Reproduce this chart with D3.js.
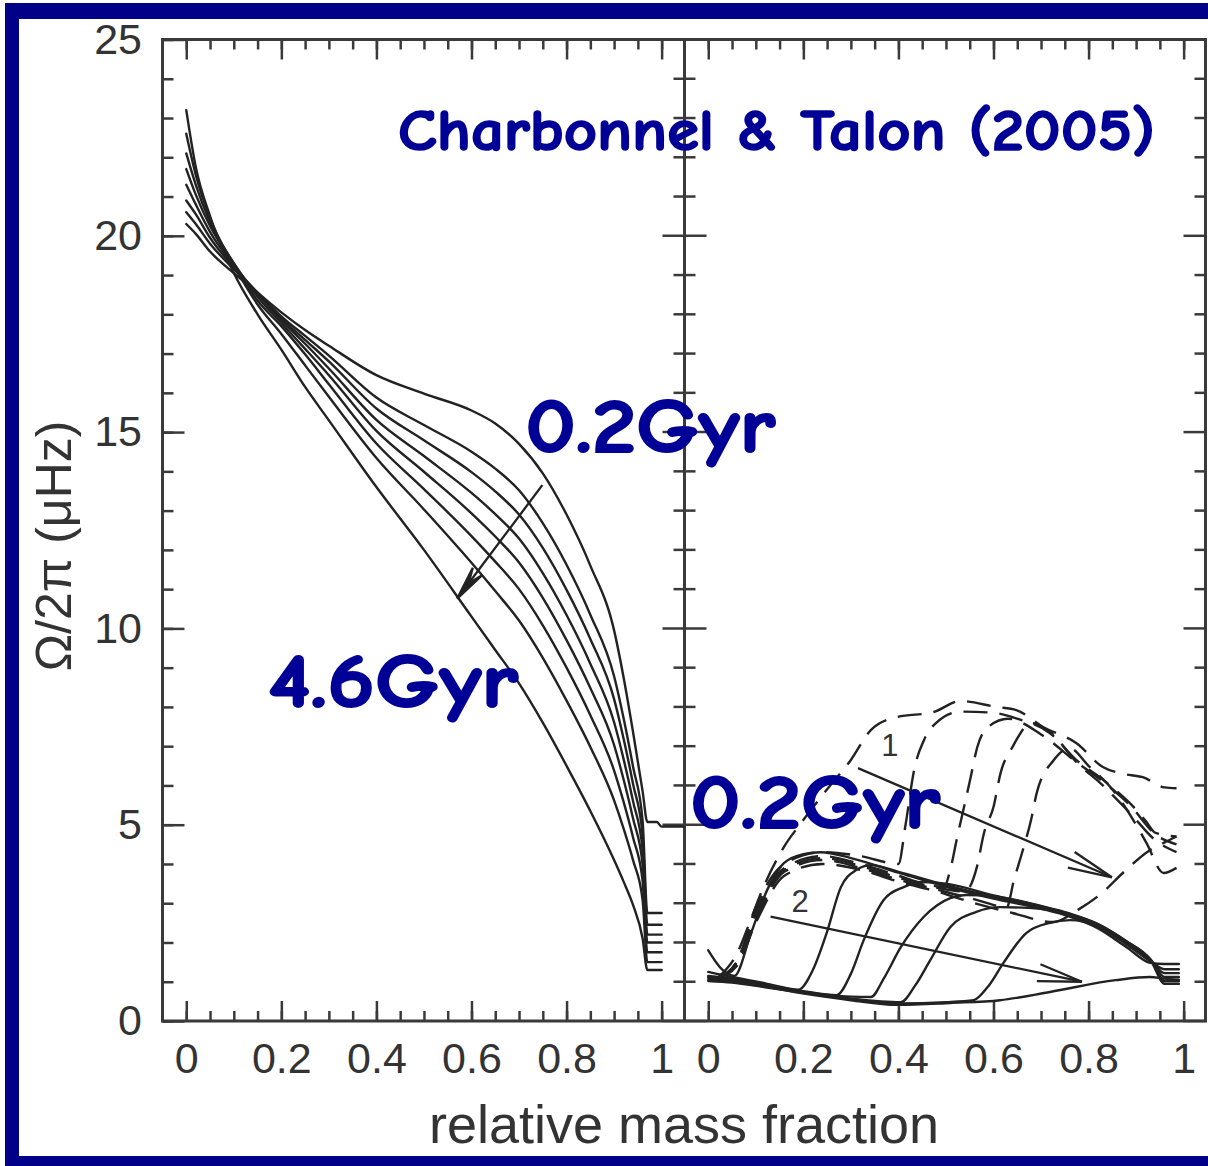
<!DOCTYPE html>
<html>
<head>
<meta charset="utf-8">
<script src="https://cdn.jsdelivr.net/npm/d3@7"></script>
<style>
  html, body { margin: 0; padding: 0; background: #ffffff; }
  svg { display: block; }
</style>
</head>
<body>
<svg id="chart" width="1208" height="1166"></svg>
<script>
// ---------------- data ----------------
const omegaMajorTicks = [0, 5, 10, 15, 20, 25];
const massMajorTicks = [0, 0.2, 0.4, 0.6, 0.8, 1];
const massTickLabels = ["0", "0.2", "0.4", "0.6", "0.8", "1"];

// Left panel: angular velocity profiles on a common mass grid (0.2 Gyr -> 4.6 Gyr)
const massLeft = [0, 0.02, 0.05, 0.1, 0.15, 0.2, 0.25, 0.3, 0.4, 0.5, 0.6, 0.65, 0.7, 0.75, 0.8, 0.85, 0.9, 0.92, 0.94, 0.96, 0.97, 0.99, 1.0, 1.046];
const omegaLeft1 = [20.3, 20.05, 19.6, 19.05, 18.55, 18.05, 17.6, 17.2, 16.45, 15.98, 15.55, 15.22, 14.7, 13.95, 12.9, 11.6, 9.95, 8.75, 7.35, 5.85, 5.07, 5.07, 4.95, 4.95];
const omegaLeft2 = [20.6, 20.3, 19.8, 19.15, 18.55, 17.95, 17.45, 16.95, 15.88, 15.18, 14.5, 14.07, 13.52, 12.68, 11.62, 10.35, 8.78, 7.71, 6.47, 5.1, 2.75, 2.75, 2.75, null];
const omegaLeft3 = [20.9, 20.55, 19.95, 19.2, 18.55, 17.9, 17.35, 16.8, 15.6, 14.79, 13.98, 13.49, 12.9, 12.05, 10.98, 9.73, 8.2, 7.19, 6.03, 4.73, 2.45, 2.45, 2.45, null];
const omegaLeft4 = [21.3, 20.8, 20.1, 19.25, 18.52, 17.85, 17.25, 16.62, 15.31, 14.39, 13.45, 12.91, 12.29, 11.41, 10.34, 9.1, 7.61, 6.67, 5.59, 4.35, 2.2, 2.2, 2.2, null];
const omegaLeft5 = [21.7, 21.05, 20.25, 19.3, 18.45, 17.78, 17.12, 16.45, 15.03, 13.99, 12.93, 12.34, 11.68, 10.78, 9.7, 8.48, 7.03, 6.15, 5.15, 3.98, 2.0, 2.0, 2.0, null];
const omegaLeft6 = [22.1, 21.3, 20.35, 19.3, 18.35, 17.7, 16.98, 16.22, 14.71, 13.55, 12.35, 11.7, 11.0, 10.08, 9.0, 7.79, 6.38, 5.58, 4.67, 3.56, 1.75, 1.75, 1.75, null];
const omegaLeft7 = [22.6, 21.55, 20.45, 19.25, 18.25, 17.5, 16.7, 15.9, 14.34, 13.03, 11.67, 10.95, 10.2, 9.25, 8.16, 6.98, 5.62, 4.9, 4.09, 3.08, 1.5, 1.5, 1.5, null];
const omegaLeft8 = [23.2, 21.75, 20.5, 19.05, 18.0, 17.1, 16.15, 15.3, 13.6, 12.0, 10.3, 9.45, 8.6, 7.6, 6.5, 5.35, 4.1, 3.55, 2.95, 2.1, 1.3, 1.3, 1.3, null];

// Right panel, case 2 (solid profiles): [mass fraction, Omega/2pi]
const solid2a = [[0,1.8],[0.03,1.3],[0.055,1.15],[0.09,2.24],[0.124,3.34],[0.159,4.02],[0.2,4.25],[0.237,4.3],[0.3,4.15],[0.4,3.78],[0.5,3.42],[0.6,3.12],[0.7,2.86],[0.76,2.66],[0.82,2.36],[0.88,1.88],[0.93,1.48],[0.96,1.45],[0.99,1.45]];
const solid2b = [[0,1.25],[0.05,1.12],[0.12,0.96],[0.19,0.8],[0.22,1.3],[0.249,2.24],[0.279,3.41],[0.312,3.85],[0.342,3.97],[0.4,3.8],[0.5,3.46],[0.6,3.16],[0.7,2.9],[0.76,2.7],[0.82,2.41],[0.88,1.95],[0.93,1.52],[0.96,1.32],[0.99,1.32]];
const solid2c = [[0,1.15],[0.05,1.08],[0.12,0.92],[0.2,0.76],[0.27,0.66],[0.3,1.2],[0.327,2.06],[0.369,3.08],[0.411,3.41],[0.453,3.54],[0.5,3.5],[0.6,3.2],[0.7,2.92],[0.76,2.72],[0.82,2.44],[0.88,1.99],[0.93,1.55],[0.96,1.22],[0.99,1.22]];
const solid2d = [[0,1.1],[0.05,1.04],[0.12,0.9],[0.2,0.74],[0.3,0.62],[0.342,0.61],[0.37,1.1],[0.405,1.88],[0.453,2.65],[0.509,3.13],[0.543,3.21],[0.6,3.18],[0.7,2.93],[0.76,2.74],[0.82,2.47],[0.88,2.02],[0.93,1.57],[0.96,1.12],[0.99,1.12]];
const solid2e = [[0,1.05],[0.05,1.0],[0.12,0.87],[0.2,0.73],[0.3,0.57],[0.405,0.48],[0.435,0.9],[0.467,1.55],[0.509,2.39],[0.564,2.78],[0.614,2.9],[0.7,2.86],[0.76,2.72],[0.82,2.46],[0.88,2.03],[0.93,1.57],[0.96,1.02],[0.99,1.02]];
const solid2f = [[0,1.02],[0.05,0.98],[0.12,0.86],[0.2,0.72],[0.3,0.56],[0.4,0.45],[0.5,0.48],[0.558,0.53],[0.59,0.9],[0.621,1.48],[0.669,2.24],[0.719,2.5],[0.761,2.57],[0.82,2.42],[0.88,2.02],[0.93,1.56],[0.96,0.95],[0.99,0.95]];
const solid2g = [[0,1.12],[0.055,1.04],[0.12,0.88],[0.195,0.71],[0.3,0.53],[0.396,0.41],[0.509,0.46],[0.614,0.53],[0.719,0.74],[0.857,1.04],[0.929,1.12],[0.96,1.08],[0.99,1.05]];

// Right panel, case 1 (dashed profiles)
const dashed1a = [[0.02,1.1],[0.061,1.73],[0.09,2.6],[0.111,3.26],[0.159,4.43],[0.195,5.04],[0.25,5.9],[0.3,6.65],[0.342,7.41],[0.396,7.74],[0.474,7.87],[0.53,8.15],[0.606,8.0],[0.648,7.92],[0.704,7.49],[0.774,7.08],[0.83,6.47],[0.87,6.3],[0.914,6.21],[0.96,5.95],[0.985,5.93]];
const dashed1b = [[0.02,1.1],[0.06,1.5],[0.1,2.9],[0.16,4.0],[0.24,4.3],[0.32,4.2],[0.4,4.0],[0.415,5.0],[0.433,6.39],[0.454,7.16],[0.48,7.6],[0.53,7.88],[0.6,7.85],[0.65,7.7],[0.719,7.33],[0.774,6.65],[0.83,6.15],[0.857,5.88],[0.887,5.55],[0.92,5.1],[0.941,4.79],[0.985,4.7]];
const dashed1c = [[0.02,1.1],[0.06,1.5],[0.1,2.8],[0.16,3.9],[0.24,4.2],[0.32,4.0],[0.4,3.7],[0.47,3.45],[0.496,3.41],[0.51,3.9],[0.524,4.7],[0.538,5.45],[0.552,6.21],[0.566,6.98],[0.59,7.5],[0.63,7.7],[0.7,7.3],[0.774,6.6],[0.83,6.1],[0.887,5.5],[0.941,4.75],[0.985,4.5]];
const dashed1d = [[0.02,1.1],[0.06,1.5],[0.1,2.7],[0.16,3.85],[0.24,4.15],[0.32,3.95],[0.4,3.65],[0.48,3.4],[0.54,3.3],[0.565,3.92],[0.58,4.79],[0.6,5.45],[0.615,6.32],[0.64,6.98],[0.68,7.59],[0.72,7.35],[0.774,6.6],[0.83,6.0],[0.887,5.3],[0.941,4.6],[0.985,4.3]];
const dashed1e = [[0.02,1.1],[0.06,1.5],[0.1,2.6],[0.16,3.8],[0.24,4.1],[0.32,3.9],[0.4,3.6],[0.48,3.35],[0.56,3.1],[0.628,2.9],[0.643,3.59],[0.66,4.28],[0.679,5.12],[0.691,5.81],[0.727,6.65],[0.76,6.95],[0.8,6.5],[0.85,5.9],[0.9,5.0],[0.922,4.53],[0.958,3.77],[0.985,3.9]];
const dashed1f = [[0.02,1.1],[0.06,1.4],[0.1,2.5],[0.16,3.7],[0.24,4.0],[0.32,3.85],[0.4,3.55],[0.48,3.3],[0.56,3.0],[0.64,2.75],[0.725,2.52],[0.78,2.85],[0.83,3.28],[0.872,3.77],[0.929,4.35],[0.96,4.55],[0.985,4.7]];

// Evolution arrows: [start, end] in (mass fraction, Omega/2pi)
const arrowLeft = [[0.749, 13.65], [0.570, 10.76]];
const arrowCase1 = [[0.315, 6.44], [0.849, 3.66]];
const arrowCase2 = [[0.131, 2.66], [0.786, 1.0]];

// ---------------- layout ----------------
const svg = d3.select("#chart");
const navy = "#000088";
const ink = "#222222";
const axisInk = "#3a3a3a";
const labelInk = "#333333";
const navyText = "#000096";
const sansFont = "'Liberation Sans', Arial, Helvetica, sans-serif";

const plotTop = 39.5, plotBottom = 1021;
const panelW = 521;
const leftX0 = 162.5, rightX0 = 684.5;
const massDomain = [-0.05, 1.046];

const y = d3.scaleLinear().domain([0, 25]).range([plotBottom, plotTop]);
const xLeft = d3.scaleLinear().domain(massDomain).range([leftX0, leftX0 + panelW]);
const xRight = d3.scaleLinear().domain(massDomain).range([rightX0, rightX0 + panelW]);

// navy frame
svg.append("rect").attr("x", 5).attr("y", 3).attr("width", 1203).attr("height", 16).attr("fill", navy);
svg.append("rect").attr("x", 5).attr("y", 3).attr("width", 14).attr("height", 1163).attr("fill", navy);
svg.append("rect").attr("x", 5).attr("y", 1156).attr("width", 1203).attr("height", 10).attr("fill", navy);

const axesG = svg.append("g");

// x axes (ticks inward, top and bottom) for both panels
const minorMass = d3.range(0, 1.0001, 0.05);
[xLeft, xRight].forEach(xs => {
  const bottomMajor = d3.axisBottom(xs).tickValues(massMajorTicks)
    .tickFormat((d, i) => massTickLabels[i]).tickSize(-20).tickPadding(21.5);
  const bottomMinor = d3.axisBottom(xs).tickValues(minorMass).tickFormat("").tickSize(-10);
  const topMajor = d3.axisTop(xs).tickValues(massMajorTicks).tickFormat("").tickSize(-20);
  const topMinor = d3.axisTop(xs).tickValues(minorMass).tickFormat("").tickSize(-10);
  [[bottomMajor, plotBottom], [bottomMinor, plotBottom], [topMajor, plotTop], [topMinor, plotTop]].forEach(([ax, ty]) => {
    const g = axesG.append("g").attr("transform", `translate(0,${ty})`).call(ax);
    g.select(".domain").remove();
    g.selectAll(".tick line").attr("stroke", axisInk).attr("stroke-width", 2.5);
    g.selectAll(".tick text").attr("fill", labelInk)
      .style("font-family", sansFont).style("font-size", "43px");
  });
});

// y axis on the left (labels) with inward ticks
const minorOmega = d3.range(0, 25.001, 1);
const yMajor = d3.axisLeft(y).tickValues(omegaMajorTicks).tickSize(-22).tickPadding(20.5);
const yMinor = d3.axisLeft(y).tickValues(minorOmega).tickFormat("").tickSize(-11);
[yMajor, yMinor].forEach(ax => {
  const g = axesG.append("g").attr("transform", `translate(${leftX0},0)`).call(ax);
  g.select(".domain").remove();
  g.selectAll(".tick line").attr("stroke", axisInk).attr("stroke-width", 2.5);
  g.selectAll(".tick text").attr("fill", labelInk)
    .style("font-family", sansFont).style("font-size", "43px");
});

// ticks on the shared divider (both sides) and on the right edge (inward)
const isMajor = v => v % 5 === 0;
axesG.append("g").selectAll("line").data(minorOmega).join("line")
  .attr("x1", d => rightX0 - (isMajor(d) ? 22 : 11))
  .attr("x2", d => rightX0 + (isMajor(d) ? 22 : 11))
  .attr("y1", d => y(d)).attr("y2", d => y(d))
  .attr("stroke", axisInk).attr("stroke-width", 2.5);
axesG.append("g").selectAll("line").data(minorOmega).join("line")
  .attr("x1", d => rightX0 + panelW - (isMajor(d) ? 22 : 11))
  .attr("x2", rightX0 + panelW)
  .attr("y1", d => y(d)).attr("y2", d => y(d))
  .attr("stroke", axisInk).attr("stroke-width", 2.5);

// panel borders
axesG.append("path").attr("fill", "none").attr("stroke", axisInk).attr("stroke-width", 3)
  .attr("d", `M${leftX0},${plotTop}H${rightX0 + panelW}V${plotBottom}H${leftX0}Z M${rightX0},${plotTop}V${plotBottom}`);

// axis titles
svg.append("text")
  .attr("transform", `translate(71,${y(12.1)}) rotate(-90)`)
  .attr("text-anchor", "middle")
  .attr("fill", labelInk)
  .style("font-family", sansFont)
  .style("font-size", "50px")
  .text("Ω/2π (μHz)");

svg.append("text")
  .attr("x", (leftX0 + rightX0 + panelW) / 2)
  .attr("y", 1143)
  .attr("text-anchor", "middle")
  .attr("fill", labelInk)
  .style("font-family", sansFont)
  .style("font-size", "54px")
  .text("relative mass fraction");

// ---------------- curves ----------------
const curvesG = svg.append("g").attr("fill", "none").attr("stroke", ink)
  .attr("stroke-width", 2.4).attr("stroke-linejoin", "round").attr("stroke-linecap", "round");

const leftSeries = [omegaLeft1, omegaLeft2, omegaLeft3, omegaLeft4, omegaLeft5, omegaLeft6, omegaLeft7, omegaLeft8]
  .map(vals => massLeft.map((m, i) => [m, vals[i]]));
const leftLine = d3.line().defined(d => d[1] != null)
  .x(d => xLeft(d[0])).y(d => y(d[1])).curve(d3.curveMonotoneX);
curvesG.append("g").selectAll("path").data(leftSeries).join("path").attr("d", leftLine);

const rightLine = d3.line().x(d => xRight(d[0])).y(d => y(d[1])).curve(d3.curveMonotoneX);
curvesG.append("g").selectAll("path")
  .data([solid2a, solid2b, solid2c, solid2d, solid2e, solid2f, solid2g])
  .join("path").attr("d", rightLine);
curvesG.append("g").attr("stroke-dasharray", "24 12").attr("stroke-linecap", "butt")
  .selectAll("path")
  .data([dashed1a, dashed1b, dashed1c, dashed1d, dashed1e, dashed1f])
  .join("path").attr("d", rightLine);

// ---------------- arrows ----------------
function drawArrow(xs, pts, filled) {
  const a = [xs(pts[0][0]), y(pts[0][1])];
  const b = [xs(pts[1][0]), y(pts[1][1])];
  const ang = Math.atan2(b[1] - a[1], b[0] - a[0]);
  const g = svg.append("g").attr("stroke", ink).attr("stroke-width", 2.3).attr("fill", "none");
  g.append("line").attr("x1", a[0]).attr("y1", a[1]).attr("x2", b[0]).attr("y2", b[1]);
  if (filled) {
    const L = 34, hw = 6;
    const bx = b[0] - L * Math.cos(ang), by = b[1] - L * Math.sin(ang);
    const px = -Math.sin(ang) * hw, py = Math.cos(ang) * hw;
    g.append("path").attr("fill", ink)
      .attr("d", `M${b[0]},${b[1]}L${bx + px},${by + py}L${bx + 0.45 * (b[0] - bx)},${by + 0.45 * (b[1] - by)}L${bx - px},${by - py}Z`);
  } else {
    const L = 45, spread = 11 * Math.PI / 180;
    [spread, -spread].forEach(s => {
      g.append("line").attr("x1", b[0]).attr("y1", b[1])
        .attr("x2", b[0] - L * Math.cos(ang + s)).attr("y2", b[1] - L * Math.sin(ang + s));
    });
  }
}
drawArrow(xLeft, arrowLeft, true);
drawArrow(xRight, arrowCase1, false);
drawArrow(xRight, arrowCase2, false);

// case labels in the right panel
[["1", 0.382, 6.75], ["2", 0.193, 2.78]].forEach(([t, m, w]) => {
  svg.append("text").attr("x", xRight(m)).attr("y", y(w)).attr("text-anchor", "middle")
    .attr("fill", labelInk)
    .style("font-family", sansFont)
    .style("font-size", "31px").text(t);
});

// ---------------- annotations ----------------
const handFont = "'Comic Sans MS', 'Comic Neue', 'DejaVu Sans', sans-serif";
svg.append("text").attr("x", 398).attr("y", 150)
  .attr("textLength", 757).attr("lengthAdjust", "spacingAndGlyphs")
  .attr("fill", navyText).attr("stroke", navyText).attr("stroke-width", 1.6)
  .style("font-family", handFont).style("font-weight", "bold")
  .style("font-size", "58px").text("Charbonnel & Talon (2005)");

[[xLeft, 0.713, 14.49, "0.2Gyr"], [xLeft, 0.172, 8.0, "4.6Gyr"], [xRight, -0.0384, 4.92, "0.2Gyr"]]
  .forEach(([xs, m, w, t]) => {
    svg.append("text").attr("x", xs(m)).attr("y", y(w))
      .attr("textLength", 250).attr("lengthAdjust", "spacingAndGlyphs")
      .attr("fill", navyText).attr("stroke", navyText).attr("stroke-width", 2)
      .style("font-family", handFont).style("font-weight", "bold")
      .style("font-size", "76px").text(t);
  });
</script>
</body>
</html>
